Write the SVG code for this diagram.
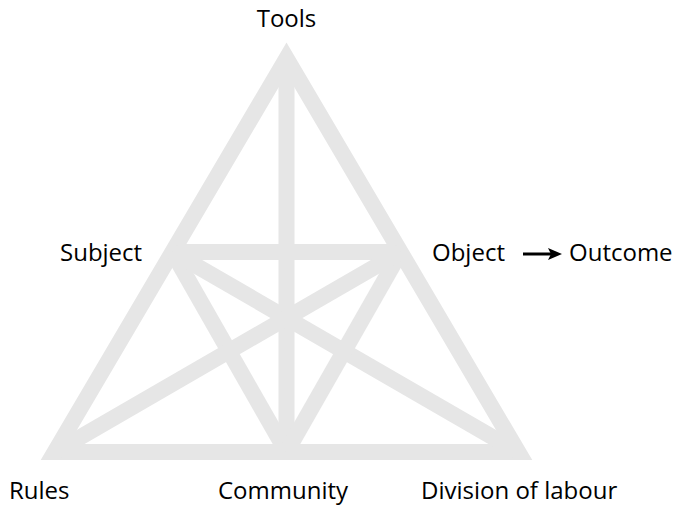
<svg xmlns="http://www.w3.org/2000/svg" width="678" height="505" viewBox="0 0 678 505">
  <style>
    .bar { stroke: #e6e6e6; stroke-width: 16; fill: none; stroke-linejoin: miter; stroke-miterlimit: 10; }
    .lbl { font-family: "Open Sans", "Noto Sans", sans-serif; font-size: 24px; fill: #000; }
  </style>
  <rect width="678" height="505" fill="#ffffff"/>
  <g id="connectors">
    <polygon class="bar" points="286.5,58.2 54.7,452 518.3,452"/>
    <line class="bar" x1="286.5" y1="58" x2="286.5" y2="452"/>
    <line class="bar" x1="172.4" y1="252" x2="400.6" y2="252"/>
    <line class="bar" x1="172.4" y1="252" x2="286.5" y2="452"/>
    <line class="bar" x1="172.4" y1="252" x2="518.3" y2="452"/>
    <line class="bar" x1="400.6" y1="252" x2="286.5" y2="452"/>
    <line class="bar" x1="400.6" y1="252" x2="54.7" y2="452"/>
  </g>
  <g id="tools"><text class="lbl" x="286.5" y="27" text-anchor="middle">Tools</text></g>
  <g id="subject"><text class="lbl" x="60" y="261">Subject</text></g>
  <g id="object"><text class="lbl" x="432" y="261">Object</text></g>
  <g id="outcome-arrow">
    <line x1="523" y1="254" x2="552" y2="254" stroke="#000" stroke-width="3"/>
    <polygon points="562,254 548,248 551,254 548,260" fill="#000"/>
  </g>
  <g id="outcome"><text class="lbl" x="569" y="261">Outcome</text></g>
  <g id="rules"><text class="lbl" x="9" y="499">Rules</text></g>
  <g id="community"><text class="lbl" x="218" y="499">Community</text></g>
  <g id="division"><text class="lbl" x="421" y="499">Division of labour</text></g>
</svg>
